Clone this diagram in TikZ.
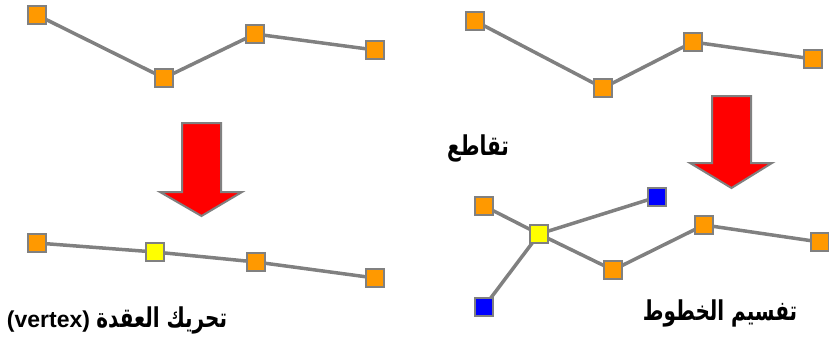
\documentclass[tikz,border=0pt]{standalone}
\usepackage{fontspec}
\usepackage{graphicx}
\usetikzlibrary{backgrounds}
\setmainfont{Liberation Sans}
\newfontfamily\arabicfont[Script=Arabic]{DejaVu Sans}
\TeXXeTstate=1
\definecolor{sqorange}{HTML}{FF9900}
\definecolor{sqyellow}{HTML}{FFFF00}
\definecolor{sqblue}{HTML}{0000FF}
\definecolor{linegray}{HTML}{808080}
\definecolor{arrred}{HTML}{FF0000}
\newcommand{\artext}[1]{\scalebox{0.95}[1.3]{\arabicfont\beginR #1\endR}}
\begin{document}
\begin{tikzpicture}[x=1pt,y=-1pt,
  sq/.style={draw=linegray,line width=1.2pt,minimum size=18pt,inner sep=0pt,rectangle},
  og/.style={sq,fill=sqorange},
  yl/.style={sq,fill=sqyellow},
  bl/.style={sq,fill=sqblue},
  ln/.style={draw=linegray,line width=3.5pt},
  bigarrow/.style={draw=linegray,line width=2pt,fill=arrred,line join=miter},
  lbl/.style={inner sep=0pt,font=\bfseries\fontsize{21}{25}\selectfont}]
\useasboundingbox (0,0) rectangle (829,340);
% top left
\node[og] (a1) at (37,15) {};
\node[og] (a2) at (164,78) {};
\node[og] (a3) at (255,34) {};
\node[og] (a4) at (375,50) {};
% bottom left
\node[og] (b1) at (37,243) {};
\node[yl] (b2) at (155,252) {};
\node[og] (b3) at (256,262) {};
\node[og] (b4) at (375,278) {};
% top right
\node[og] (c1) at (475,21) {};
\node[og] (c2) at (603,88) {};
\node[og] (c3) at (693,42) {};
\node[og] (c4) at (813,59) {};
% bottom right
\node[og] (d1) at (484,206) {};
\node[yl] (d2) at (539,234) {};
\node[bl] (d3) at (657,197) {};
\node[bl] (d4) at (484,307) {};
\node[og] (d5) at (613,270) {};
\node[og] (d6) at (704,225) {};
\node[og] (d7) at (820,242) {};
% lines behind squares
\begin{scope}[on background layer]
\draw[ln] (a1.center) -- (a2.center) -- (a3.center) -- (a4.center);
\draw[ln] (b1.center) -- (b2.center) -- (b3.center) -- (b4.center);
\draw[ln] (c1.center) -- (c2.center) -- (c3.center) -- (c4.center);
\draw[ln] (d1.center) -- (d2.center) -- (d5.center) -- (d6.center) -- (d7.center);
\draw[ln] (d2.center) -- (d3.center);
\draw[ln] (d2.center) -- (d4.center);
\end{scope}
% arrows
\draw[bigarrow] (182,123) -- (221,123) -- (221,192) -- (242,192) -- (201.5,216) -- (160,192) -- (182,192) -- cycle;
\draw[bigarrow] (712,96) -- (751,96) -- (751,163) -- (772,163) -- (731.5,188) -- (690,163) -- (712,163) -- cycle;
% labels
\node[lbl,anchor=base] (t1) at (117,327) {\fontsize{23}{27}\selectfont(vertex) \fontsize{21}{25}\selectfont\artext{تحريك العقدة}};
\node[lbl,anchor=base] (t2) at (478,155) {\artext{تقاطع}};
\node[lbl,anchor=base] (t3) at (720,320) {\artext{تفسيم الخطوط}};
\end{tikzpicture}
\end{document}
